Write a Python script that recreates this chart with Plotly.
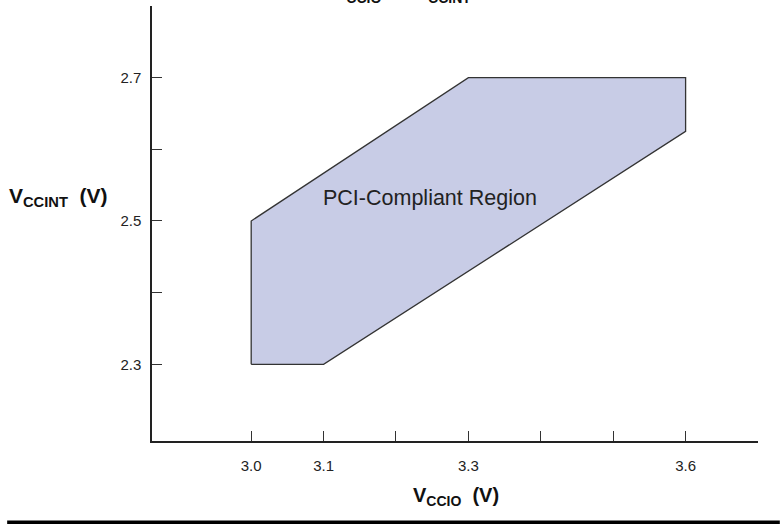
import plotly.graph_objects as go

# Data
region_vccio = [3.0, 3.1, 3.6, 3.6, 3.3, 3.0, 3.0]
region_vccint = [2.3, 2.3, 2.625, 2.7, 2.7, 2.5, 2.3]

x_tick_vals = [3.0, 3.1, 3.2, 3.3, 3.4, 3.5, 3.6, 3.7]
x_tick_text = ["3.0", "3.1", "", "3.3", "", "", "3.6", ""]
y_tick_vals = [2.3, 2.4, 2.5, 2.6, 2.7, 2.8]
y_tick_text = ["2.3", "", "2.5", "", "2.7", ""]

region_label = "PCI-Compliant Region"
region_label_pos = (3.247, 2.532)

FONT = "Liberation Sans, Arial, Helvetica, sans-serif"

fig = go.Figure()
fig.add_trace(go.Scatter(
    x=region_vccio, y=region_vccint, mode="lines", fill="toself",
    fillcolor="#c8cce6", line=dict(color="#333333", width=1.3),
    hoverinfo="skip", showlegend=False,
))

fig.add_annotation(x=region_label_pos[0], y=region_label_pos[1], text=region_label,
                   showarrow=False, font=dict(family=FONT, size=21.5, color="#222222"))

# axis titles
fig.add_annotation(xref="paper", yref="paper", x=-0.1535, y=0.562,
                   xanchor="center", yanchor="middle",
                   text="<b>V<sub>CCINT</sub>  (V)</b>", showarrow=False,
                   font=dict(family=FONT, size=21, color="#111111"))
fig.add_annotation(xref="paper", yref="paper", x=0.502, y=-0.128,
                   xanchor="center", yanchor="middle",
                   text="<b>V<sub>CCIO</sub>  (V)</b>", showarrow=False,
                   font=dict(family=FONT, size=20, color="#111111"))
# clipped title at top
fig.add_annotation(xref="paper", yref="paper", x=0.413, y=0.996,
                   xanchor="center", yanchor="bottom",
                   text="<b>V<sub>CCIO</sub>  –  V<sub>CCINT</sub></b>", showarrow=False,
                   font=dict(family=FONT, size=20, color="#111111"))

# bottom rule
fig.add_shape(type="line", xref="paper", yref="paper",
              x0=-0.239, x1=1.036, y0=-0.187, y1=-0.187,
              line=dict(color="black", width=3.5))

fig.update_xaxes(range=[2.863, 3.7], tickvals=x_tick_vals, ticktext=x_tick_text,
                 ticks="inside", ticklen=10, tickwidth=1.2, tickcolor="#333333",
                 showline=True, linecolor="#222222", linewidth=1.5,
                 showgrid=False, zeroline=False, ticklabelstandoff=10,
                 tickfont=dict(family=FONT, size=15, color="#222222"))
fig.update_yaxes(range=[2.193, 2.8], tickvals=y_tick_vals, ticktext=y_tick_text,
                 ticks="inside", ticklen=10, tickwidth=1.2, tickcolor="#333333",
                 showline=True, linecolor="#222222", linewidth=1.5,
                 showgrid=False, zeroline=False, ticklabelstandoff=6,
                 tickfont=dict(family=FONT, size=15, color="#222222"))

fig.update_layout(width=783, height=526,
                  margin=dict(l=152, r=25, t=5.5, b=85),
                  plot_bgcolor="white", paper_bgcolor="white",
                  showlegend=False)

fig.write_html("out.html", config={"displayModeBar": False},
               post_script="document.body.style.margin='0px';document.body.style.padding='0px';")
